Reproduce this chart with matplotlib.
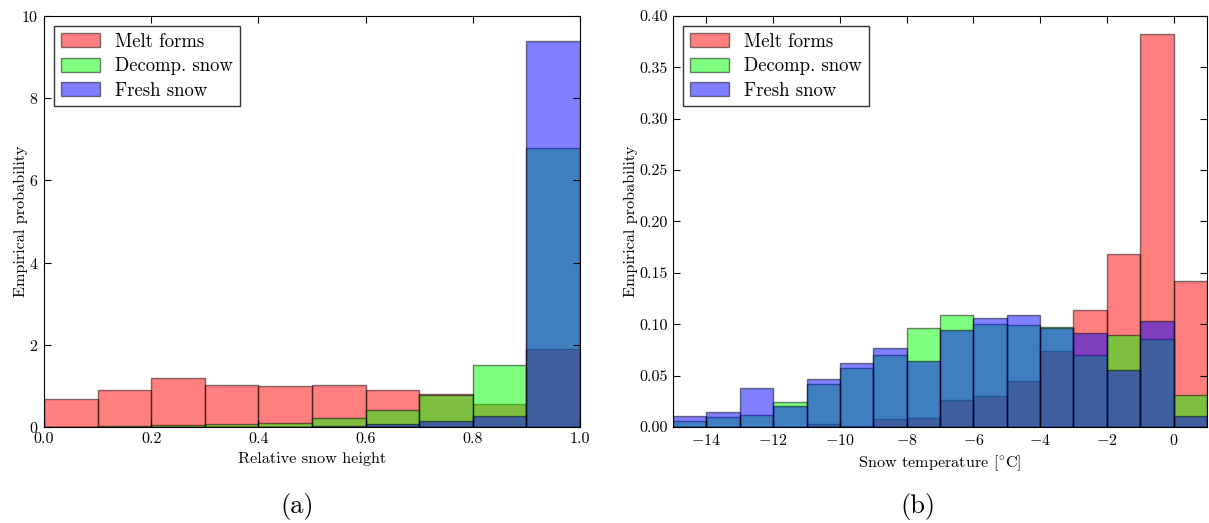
import numpy as np
import matplotlib
matplotlib.use("Agg")
import matplotlib.pyplot as plt
from matplotlib.ticker import FormatStrFormatter

plt.rcParams['font.family'] = 'serif'
plt.rcParams['font.serif'] = ['cmr10', 'DejaVu Serif']
plt.rcParams['mathtext.fontset'] = 'cm'
plt.rcParams['axes.formatter.use_mathtext'] = True
plt.rcParams['axes.unicode_minus'] = True

labels = ["Melt forms", "Decomp. snow", "Fresh snow"]
colors = ["red", "lime", "blue"]

# (a) relative snow height, bins of 0.1
height_edges = np.arange(0.0, 1.0, 0.1)
height_melt = [0.68, 0.90, 1.18, 1.03, 1.00, 1.02, 0.90, 0.80, 0.55, 1.90]
height_decomp = [0.0, 0.02, 0.04, 0.07, 0.10, 0.22, 0.42, 0.78, 1.50, 6.80]
height_fresh = [0.0, 0.0, 0.0, 0.01, 0.01, 0.03, 0.08, 0.15, 0.27, 9.40]

# (b) snow temperature, bins of 1 degree
temp_edges = np.arange(-15, 1, 1)
temp_melt = [0.0, 0.0, 0.0, 0.0, 0.0026, 0.0013, 0.0075, 0.0088, 0.026, 0.030,
             0.045, 0.074, 0.114, 0.168, 0.382, 0.142]
temp_decomp = [0.006, 0.0098, 0.012, 0.024, 0.0414, 0.057, 0.0697, 0.096, 0.109, 0.100,
               0.099, 0.097, 0.070, 0.0896, 0.086, 0.031]
temp_fresh = [0.011, 0.0147, 0.038, 0.020, 0.047, 0.062, 0.0765, 0.0645, 0.094, 0.106,
              0.109, 0.096, 0.091, 0.0557, 0.103, 0.011]

fig = plt.figure(figsize=(12.09, 5.23), dpi=100)
ax1 = fig.add_axes([0.0364, 0.1836, 0.4433, 0.7858])
ax2 = fig.add_axes([0.5567, 0.1836, 0.4416, 0.7858])


def draw_hist(ax, edges, width, series, ypad):
    for vals, c, lab in zip(series, colors, labels):
        ax.bar(edges, vals, width=width, align='edge', color=c, alpha=0.5,
               edgecolor='black', linewidth=1, label=lab)
    leg = ax.legend(loc='upper left', fancybox=False, fontsize=13.5,
                    handlelength=2.1, handleheight=0.75, handletextpad=0.8,
                    labelspacing=0.35, borderpad=0.35, borderaxespad=0.55)
    leg.get_frame().set_edgecolor('black')
    leg.get_frame().set_linewidth(1)
    ax.tick_params(direction='in', top=True, right=True, length=5,
                   labelsize=11.5, pad=4)
    ax.set_ylabel("Empirical probability", fontsize=11.7, labelpad=ypad)


draw_hist(ax1, height_edges, 0.1, [height_melt, height_decomp, height_fresh], -5)
ax1.set_xlim(0, 1)
ax1.set_ylim(0, 10)
ax1.set_xticks([0.0, 0.2, 0.4, 0.6, 0.8, 1.0])
ax1.set_yticks([0, 2, 4, 6, 8, 10])
ax1.xaxis.set_major_formatter(FormatStrFormatter('%.1f'))
ax1.set_xlabel("Relative snow height", fontsize=11.7)

draw_hist(ax2, temp_edges, 1, [temp_melt, temp_decomp, temp_fresh], 1)
ax2.set_xlim(-15, 1)
ax2.set_ylim(0, 0.40)
ax2.set_xticks(np.arange(-14, 1, 2))
ax2.set_yticks(np.arange(0, 0.41, 0.05))
ax2.yaxis.set_major_formatter(FormatStrFormatter('%.2f'))
ax2.set_xlabel(r"Snow temperature [$^{\circ}$C]", fontsize=11.7)

fig.text(0.2457, 0.0325, "(a)", fontsize=19, ha='center', va='center')
fig.text(0.7593, 0.0325, "(b)", fontsize=19, ha='center', va='center')

fig.savefig("out.png", dpi=100)
